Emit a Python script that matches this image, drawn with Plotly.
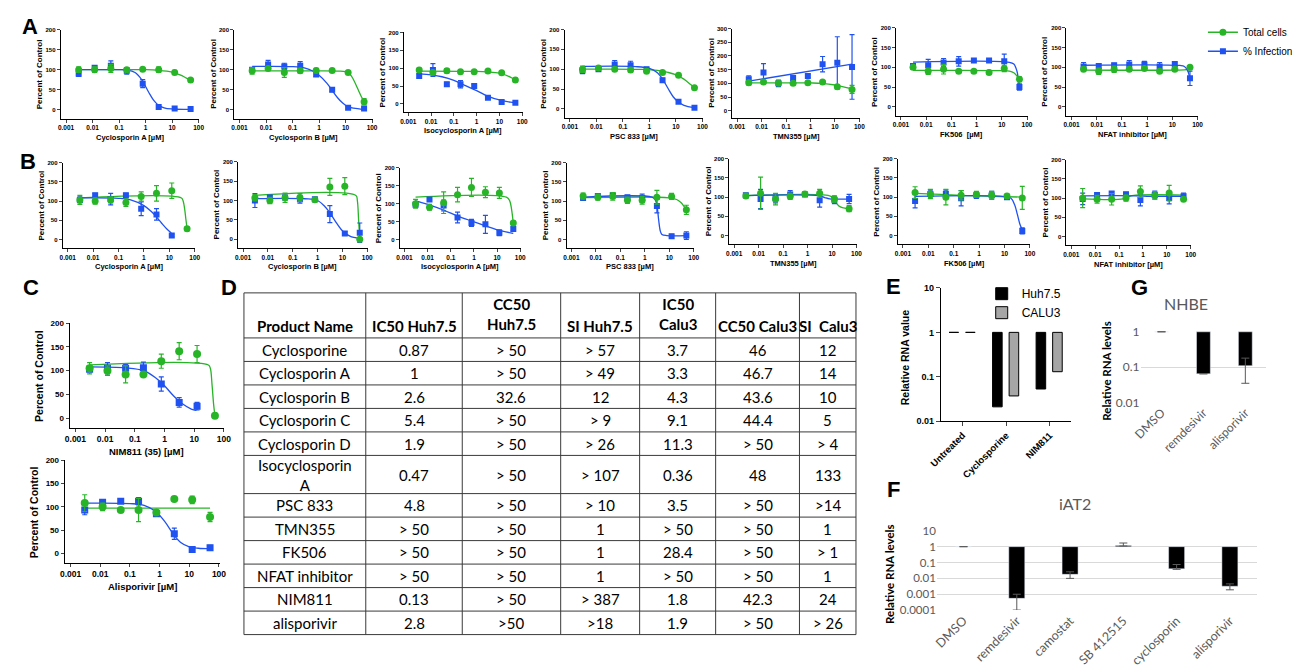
import plotly.graph_objects as go

W, H = 1298, 669
GREEN = '#27b527'
BLUE = '#1f52f0'
ARIAL = 'Liberation Sans, Arial, sans-serif'
NARROW = 'Liberation Sans Narrow, Liberation Sans, Arial, sans-serif'
CAL = 'Lato, Open Sans, sans-serif'
GRAY_TXT = '#595959'

# ---------------- data ----------------
DOSES = [0.003, 0.012, 0.049, 0.195, 0.78, 3.125, 12.5, 50]
X_TICKS = [0.001, 0.01, 0.1, 1, 10, 100]
X_TICKTEXT = ['0.001', '0.01', '0.1', '1', '10', '100']
Y_TITLE = 'Percent of Control'

A_LABELS = ['Cyclosporin A [µM]', 'Cyclosporin B [µM]', 'Isocyclosporin A [µM]', 'PSC 833 [µM]',
            'TMN355 [µM]', 'FK506  [µM]', 'NFAT inhibitor [µM]']
A_TOTAL = [
    [100, 100, 103, 100, 101, 100, 93, 74],
    [97, 103, 93, 97, 98, 98, 93, 20],
    [95, 88, 93, 90, 90, 92, 87, 67],
    [100, 103, 100, 98, 95, 92, 85, 53],
    [102, 105, 100, 100, 102, 105, 88, 78],
    [100, 90, 95, 90, 90, 87, 97, 70],
    [95, 90, 95, 95, 97, 90, 95, 100],
]
A_TOTAL_ERR = [
    [7, 7, 10, 5, 3, 7, 5, 3],
    [8, 3, 12, 5, 5, 3, 3, 8],
    [5, 5, 6, 3, 3, 4, 3, 5],
    [8, 5, 5, 5, 5, 3, 3, 3],
    [8, 3, 5, 5, 3, 3, 3, 15],
    [5, 8, 12, 3, 3, 5, 8, 6],
    [5, 8, 8, 3, 3, 3, 3, 3],
]
A_INFECT = [
    [90, 105, 110, 97, 65, 7, 3, 2],
    [100, 113, 108, 110, 88, 50, 5, 3],
    [78, 95, 55, 55, 50, 17, 5, 3],
    [97, 100, 112, 110, 100, 72, 18, 3],
    [115, 140, 100, 120, 127, 170, 175, 160],
    [103, 105, 112, 115, 117, 117, 115, 50],
    [102, 103, 105, 107, 107, 102, 108, 72],
]
A_INFECT_ERR = [
    [7, 5, 12, 8, 10, 2, 2, 2],
    [5, 10, 8, 10, 5, 5, 3, 3],
    [5, 18, 5, 10, 5, 3, 2, 2],
    [8, 5, 10, 10, 5, 5, 3, 3],
    [12, 32, 12, 8, 5, 28, 95, 118],
    [5, 15, 10, 12, 3, 3, 18, 8],
    [10, 5, 5, 10, 8, 10, 3, 18],
]
A_TOTAL_FIT = [
    [(0.003, 100), (0.3, 100), (1, 100), (3, 98.5), (10, 94), (20, 87), (35, 79), (50, 74)],
    [(0.003, 97), (1, 97), (5, 96.5), (10, 95), (15, 88), (20, 75), (30, 50), (40, 32), (50, 22)],
    [(0.003, 92), (1, 91), (3, 89.5), (10, 86), (20, 80), (30, 75), (50, 67)],
    [(0.003, 100), (0.5, 99.5), (2, 97), (5, 92), (10, 86), (20, 75), (35, 62), (50, 53)],
    [(0.003, 102), (1, 101.5), (3, 100), (10, 94), (20, 88), (50, 80)],
    [(0.003, 92), (10, 91.5), (20, 90), (30, 86), (40, 78), (50, 70)],
    [(0.003, 93), (30, 93.5), (50, 95)],
]
A_INFECT_FIT = [
    [(0.003, 100), (0.1, 100), (0.2, 99), (0.4, 93), (0.7, 76), (1, 58), (1.5, 37), (2, 24), (3, 12), (5, 5), (10, 2), (50, 1)],
    [(0.003, 108), (0.1, 107.5), (0.3, 104), (0.6, 96), (1, 86), (2, 66), (3, 50), (5, 30), (8, 16), (12, 8), (20, 4), (50, 1)],
    [(0.003, 84), (0.01, 81), (0.03, 76), (0.1, 66), (0.3, 52), (1, 37), (3, 22), (10, 11), (30, 5), (50, 4)],
    [(0.003, 107), (0.3, 106.5), (1, 102), (2, 91), (3, 77), (5, 52), (8, 30), (12, 18), (20, 9), (50, 3)],
    [(0.003, 108), (50, 170)],
    [(0.003, 113), (20, 112.5), (30, 108), (40, 90), (45, 72), (50, 52)],
    [(0.003, 105), (20, 104.5), (30, 102), (40, 92), (45, 83), (50, 72)],
]

B_LABELS = ['Cyclosporin A [µM]', 'Cyclosporin B [µM]', 'Isocyclosporin A [µM]', 'PSC 833 [µM]',
            'TMN355 [µM]', 'FK506 [µM]', 'NFAT inhibitor [µM]']
B_TOTAL = [
    [103, 100, 103, 96, 112, 120, 127, 28],
    [107, 100, 107, 108, 102, 135, 137, 0],
    [100, 90, 103, 125, 145, 132, 130, 47],
    [113, 110, 112, 102, 102, 110, 112, 77],
    [103, 110, 95, 102, 108, 110, 95, 70],
    [112, 108, 100, 105, 107, 105, 103, 98],
    [100, 97, 97, 100, 117, 107, 113, 97],
]
B_TOTAL_ERR = [
    [12, 8, 8, 10, 12, 20, 20, 5],
    [8, 8, 12, 10, 5, 22, 22, 3],
    [12, 8, 30, 20, 25, 15, 15, 5],
    [8, 8, 10, 8, 10, 18, 8, 12],
    [5, 42, 15, 8, 5, 10, 8, 8],
    [15, 12, 20, 12, 8, 10, 5, 30],
    [25, 10, 15, 8, 15, 10, 20, 5],
]
B_INFECT = [
    [103, 115, 105, 115, 80, 65, 10, None],
    [100, 108, 108, 103, 103, 65, 15, 17],
    [97, 112, 95, 62, 47, 43, 20, 30],
    [108, 113, 115, 110, 108, 87, 8, 10],
    [105, 95, 97, 107, 107, 92, 93, 95],
    [90, 108, 108, 97, 105, 105, 100, 12],
    [98, 108, 112, 110, 95, 108, 100, 105],
]
B_INFECT_ERR = [
    [8, 5, 15, 5, 18, 15, 3, 0],
    [18, 5, 5, 10, 5, 22, 5, 25],
    [5, 3, 15, 15, 10, 25, 8, 5],
    [5, 3, 5, 5, 10, 18, 5, 10],
    [5, 25, 12, 10, 3, 18, 10, 12],
    [18, 10, 10, 20, 8, 10, 5, 8],
    [15, 3, 5, 5, 15, 10, 15, 8],
]
B_TOTAL_FIT = [
    [(0.003, 108), (30, 108), (35, 100), (40, 80), (45, 52), (50, 28)],
    [(0.003, 113), (35, 113), (40, 100), (45, 50), (50, 0)],
    [(0.003, 118), (25, 118), (35, 108), (42, 85), (50, 45)],
    [(0.003, 109), (10, 108.5), (20, 104), (30, 96), (40, 86), (50, 78)],
    [(0.003, 104), (8, 103.5), (12, 97), (15, 85), (20, 76), (30, 72), (50, 70)],
    [(0.003, 110), (0.03, 107), (0.3, 104), (3, 102), (50, 100)],
    [(0.003, 98), (0.15, 98), (0.25, 104), (0.5, 107.5), (50, 108)],
]
B_INFECT_FIT = [
    [(0.003, 108), (0.1, 107), (0.3, 103), (1, 88), (2, 72), (3, 60), (5, 42), (8, 27), (12, 17)],
    [(0.003, 105), (0.3, 104.5), (1, 100), (2, 84), (3, 70), (5, 48), (10, 22), (20, 8), (50, 2)],
    [(0.003, 108), (0.01, 98), (0.05, 82), (0.2, 66), (1, 50), (3, 39), (10, 28), (50, 18)],
    [(0.003, 110), (2, 110), (2.7, 103), (3.2, 85), (3.7, 50), (4.3, 22), (5, 13), (8, 10), (50, 10)],
    [(0.003, 104), (3, 103.5), (5, 99), (8, 95.5), (15, 95), (50, 95)],
    [(0.003, 102), (10, 101.5), (18, 97), (25, 80), (32, 55), (40, 30), (50, 15)],
    [(0.003, 106), (0.5, 106), (2, 104.5), (50, 104.5)],
]

C_LABELS = ['NIM811 (35) [µM]', 'Alisporivir [µM]']
C_TOTAL = [
    [105, 100, 92, 92, 120, 141, 135, 5],
    [108, 100, 93, 93, 88, 117, 115, 78],
]
C_TOTAL_ERR = [
    [12, 10, 18, 3, 15, 18, 18, 2],
    [18, 8, 3, 25, 3, 3, 8, 10],
]
C_INFECT = [
    [103, 105, 105, 106, 72, 33, 25, None],
    [93, 110, 112, 112, 85, 42, 8, 12],
]
C_INFECT_ERR = [
    [5, 12, 8, 12, 15, 10, 8, 0],
    [10, 5, 3, 8, 5, 12, 3, 5],
]
C_TOTAL_FIT = [
    [(0.003, 112), (30, 112), (35, 105), (40, 70), (45, 30), (50, 5)],
    [(0.003, 97), (50, 97)],
]
C_INFECT_FIT = [
    [(0.003, 108), (0.05, 106), (0.2, 100), (0.5, 85), (1, 68), (2, 47), (4, 30), (8, 19), (12, 16)],
    [(0.003, 108), (0.1, 107), (0.3, 103), (0.8, 88), (1.5, 68), (3, 40), (5, 24), (10, 14), (20, 11), (50, 10)],
]

TABLE_HEADER = ['Product Name', 'IC50 Huh7.5', 'CC50<br>Huh7.5', 'SI Huh7.5', 'IC50<br>Calu3', 'CC50 Calu3', 'SI  Calu3']
PRODUCTS = ['Cyclosporine', 'Cyclosporin A', 'Cyclosporin B', 'Cyclosporin C', 'Cyclosporin D',
            'Isocyclosporin<br>A', 'PSC 833', 'TMN355', 'FK506', 'NFAT inhibitor', 'NIM811', 'alisporivir']
IC50_HUH = ['0.87', '1', '2.6', '5.4', '1.9', '0.47', '4.8', '> 50', '> 50', '> 50', '0.13', '2.8']
CC50_HUH = ['> 50', '> 50', '32.6', '> 50', '> 50', '> 50', '> 50', '> 50', '> 50', '> 50', '> 50', '>50']
SI_HUH = ['> 57', '> 49', '12', '> 9', '> 26', '> 107', '> 10', '1', '1', '1', '> 387', '>18']
IC50_CALU = ['3.7', '3.3', '4.3', '9.1', '11.3', '0.36', '3.5', '> 50', '28.4', '> 50', '1.8', '1.9']
CC50_CALU = ['46', '46.7', '43.6', '44.4', '> 50', '48', '> 50', '> 50', '> 50', '> 50', '42.3', '> 50']
SI_CALU = ['12', '14', '10', '5', '> 4', '133', '>14', '1', '> 1', '1', '24', '> 26']

E_CATS = ['Untreated', 'Cyclosporine', 'NIM811']
E_HUH = [1, 0.021, 0.053]
E_CALU = [1, 0.037, 0.13]

G_CATS = ['DMSO', 'remdesivir', 'alisporivir']
G_VALS = [1, 0.065, 0.11]
G_ERR_PLUS = [0, 0, 0.07]
G_ERR_MINUS = [0, 0, 0.075]

F_CATS = ['DMSO', 'remdesivir', 'camostat', 'SB 412515', 'cyclosporin', 'alisporivir']
F_VALS = [1, 0.00055, 0.018, 1.2, 0.04, 0.0032]
F_ERR_PLUS = [0, 0.00045, 0.008, 0.5, 0.035, 0.0013]
F_ERR_MINUS = [0, 0.00045, 0.008, 0.1, 0.003, 0.0013]

# ---------------- layout positions (px): x_left(axis), x_right, y_top(max tick), y_bottom(axis) ----------------
POS_A = [(50, 192, 23, 114), (228, 370, 23, 114), (402, 524, 26, 107), (567, 709, 23, 113),
         (739, 870, 22, 113), (907, 1042, 21, 111), (1082, 1217, 21, 111)]
POS_B = [(52, 188, 159, 246), (232, 365, 158, 246), (398, 522, 164, 246), (569, 700, 159, 246),
         (736, 867, 155, 242), (909, 1045, 155, 242), (1082, 1210, 156, 243)]
POS_C = [(59, 218, 323, 430), (54, 213, 463, 568)]
TABLE_COLS = [238, 363, 462, 563, 644, 722, 808, 866]
TABLE_ROWS = [292, 338, 362, 386, 410, 434, 458, 497, 521, 545, 569, 593, 617, 641]

fig = go.Figure()
LAY = {}
ANN = []
SHAPES = []


def ax_names(n):
    return ('x' if n == 1 else f'x{n}', 'y' if n == 1 else f'y{n}',
            'xaxis' if n == 1 else f'xaxis{n}', 'yaxis' if n == 1 else f'yaxis{n}')


def px(x):
    return x / W


def py(y):
    return 1 - y / H


def text_at(x, y, text, size, family=ARIAL, color='black', weight='normal', angle=0, xanchor='center'):
    ANN.append(dict(text=text, x=px(x), y=py(y), xref='paper', yref='paper', showarrow=False,
                    xanchor=xanchor, yanchor='middle', textangle=angle,
                    font=dict(family=family, size=size, color=color, weight=weight)))


def dr_panel(n, pos, label, tot, tot_err, inf, inf_err, tot_fit, inf_fit, ymax=200, ymin=-22, big=False):
    xa, ya, xk, yk = ax_names(n)
    x0, x1, yt, yb = pos
    msize = 8 if big else 7
    for fit, col in ((tot_fit, GREEN), (inf_fit, BLUE)):
        fig.add_trace(go.Scatter(x=[p[0] for p in fit], y=[p[1] for p in fit], mode='lines',
                                 line=dict(color=col, width=1.3, shape='spline', smoothing=1.0),
                                 xaxis=xa, yaxis=ya, showlegend=False, hoverinfo='skip'))
    fig.add_trace(go.Scatter(x=DOSES, y=inf, mode='markers',
                             marker=dict(symbol='square', size=msize - 1, color=BLUE),
                             error_y=dict(type='data', array=inf_err, color=BLUE, thickness=1.2, width=2.5),
                             xaxis=xa, yaxis=ya, showlegend=False))
    fig.add_trace(go.Scatter(x=DOSES, y=tot, mode='markers',
                             marker=dict(symbol='circle', size=msize, color=GREEN),
                             error_y=dict(type='data', array=tot_err, color=GREEN, thickness=1.2, width=2.5),
                             xaxis=xa, yaxis=ya, showlegend=False))
    tick_size = 8 if big else 6
    LAY[xk] = dict(type='log', domain=[px(x0), px(x1)], range=[-3.2, 2.02], anchor=ya,
                   tickvals=X_TICKS, ticktext=X_TICKTEXT, showline=True, linecolor='black', linewidth=1,
                   ticks='outside', ticklen=3, tickwidth=1, showgrid=False, zeroline=False,
                   tickfont=dict(family=ARIAL, size=tick_size + 0.5, color='black', weight='bold'))
    LAY[yk] = dict(domain=[py(yb), py(yt)], range=[ymin, ymax], anchor=xa,
                   tickvals=list(range(0, ymax + 1, 50)), showline=True, linecolor='black', linewidth=1,
                   ticks='outside', ticklen=3, tickwidth=1, showgrid=False, zeroline=False,
                   tickfont=dict(family=ARIAL, size=tick_size, color='black', weight='bold'))
    if big:
        text_at(x0 - 32, (yt + yb) / 2, Y_TITLE, 10.5, weight='bold', angle=-90)
        text_at((x0 + x1) / 2, yb + 24, label, 9.5, weight='bold')
    else:
        text_at(x0 - 22, (yt + yb) / 2, Y_TITLE, 8, weight='bold', angle=-90)
        text_at((x0 + x1) / 2, yb + 19.5, label, 7.5, weight='bold')


n = 1
for i in range(7):
    if i == 4:
        dr_panel(n, POS_A[i], A_LABELS[i], A_TOTAL[i], A_TOTAL_ERR[i], A_INFECT[i], A_INFECT_ERR[i],
                 A_TOTAL_FIT[i], A_INFECT_FIT[i], ymax=300, ymin=-25)
    else:
        dr_panel(n, POS_A[i], A_LABELS[i], A_TOTAL[i], A_TOTAL_ERR[i], A_INFECT[i], A_INFECT_ERR[i],
                 A_TOTAL_FIT[i], A_INFECT_FIT[i])
    n += 1
for i in range(7):
    dr_panel(n, POS_B[i], B_LABELS[i], B_TOTAL[i], B_TOTAL_ERR[i], B_INFECT[i], B_INFECT_ERR[i],
             B_TOTAL_FIT[i], B_INFECT_FIT[i])
    n += 1
for i in range(2):
    dr_panel(n, POS_C[i], C_LABELS[i], C_TOTAL[i], C_TOTAL_ERR[i], C_INFECT[i], C_INFECT_ERR[i],
             C_TOTAL_FIT[i], C_INFECT_FIT[i], ymin=-21, big=True)
    n += 1

# legend entries (no marks drawn)
fig.add_trace(go.Scatter(x=[None], y=[None], mode='lines+markers', name='Total cells',
                         marker=dict(symbol='circle', size=7, color=GREEN), line=dict(color=GREEN, width=1.3),
                         xaxis='x', yaxis='y', legend='legend'))
fig.add_trace(go.Scatter(x=[None], y=[None], mode='lines+markers', name='% Infection',
                         marker=dict(symbol='square', size=6, color=BLUE), line=dict(color=BLUE, width=1.3),
                         xaxis='x', yaxis='y', legend='legend'))

# ---------------- E ----------------
nE = 17
xa, ya, xk, yk = ax_names(nE)
fig.add_trace(go.Bar(x=E_CATS, y=[1 - v for v in E_HUH], base=E_HUH, name='Huh7.5',
                     marker=dict(color='black', line=dict(color='black', width=1)),
                     width=0.22, offset=-0.31, xaxis=xa, yaxis=ya, legend='legend2'))
fig.add_trace(go.Bar(x=E_CATS, y=[1 - v for v in E_CALU], base=E_CALU, name='CALU3',
                     marker=dict(color='#a6a6a6', line=dict(color='black', width=1)),
                     width=0.22, offset=0.07, xaxis=xa, yaxis=ya, legend='legend2'))
LAY[xk] = dict(type='category', domain=[px(953), px(1087)], range=[-0.5, 2.5], anchor=ya,
               showline=True, linecolor='black', linewidth=1, ticks='outside', ticklen=4,
               tickangle=-45, tickfont=dict(family=ARIAL, size=9.5, color='black', weight='bold'), showgrid=False)
LAY[yk] = dict(type='log', domain=[py(423), py(287)], range=[-2, 1], anchor=xa,
               tickvals=[0.01, 0.1, 1, 10], ticktext=['0.01', '0.1', '1', '10'], showline=True, linecolor='black',
               linewidth=1, ticks='outside', ticklen=4, showgrid=False, zeroline=False,
               tickfont=dict(family=ARIAL, size=9, color='black', weight='bold'))
text_at(916, 358, 'Relative RNA value', 10.5, weight='bold', angle=-90)

# ---------------- G ----------------
nG = 18
xa, ya, xk, yk = ax_names(nG)
fig.add_trace(go.Bar(x=G_CATS, y=[1 - v for v in G_VALS], base=G_VALS, marker=dict(color='black'), width=0.33,
                     xaxis=xa, yaxis=ya, showlegend=False))
fig.add_trace(go.Scatter(x=G_CATS, y=G_VALS, mode='markers', marker=dict(size=0.1, color='black'),
                         error_y=dict(type='data', array=G_ERR_PLUS, arrayminus=G_ERR_MINUS, color=GRAY_TXT,
                                      thickness=1, width=4),
                         xaxis=xa, yaxis=ya, showlegend=False, hoverinfo='skip'))
LAY[xk] = dict(type='category', domain=[px(1158), px(1287)], range=[-0.5, 2.5], anchor=ya,
               showline=False, ticks='', tickangle=-45, tickfont=dict(family=CAL, size=12, color=GRAY_TXT),
               showgrid=False)
LAY[yk] = dict(type='log', domain=[py(404), py(331)], range=[-2, 0.02], anchor=xa,
               tickvals=[0.01, 0.1, 1], ticktext=['0.01', '0.1', '1'], showline=False, ticks='',
               showgrid=True, gridcolor='#d9d9d9', zeroline=False,
               tickfont=dict(family=CAL, size=12, color=GRAY_TXT))
text_at(1123, 372, 'Relative RNA levels', 11.5, family=CAL, weight='bold', angle=-90)
text_at(1205, 303, 'NHBE', 16, family=CAL, color=GRAY_TXT)

# ---------------- F ----------------
nF = 19
xa, ya, xk, yk = ax_names(nF)
fig.add_trace(go.Bar(x=F_CATS, y=[1 - v for v in F_VALS], base=F_VALS, marker=dict(color='black'), width=0.3,
                     xaxis=xa, yaxis=ya, showlegend=False))
fig.add_trace(go.Scatter(x=F_CATS, y=F_VALS, mode='markers', marker=dict(size=0.1, color='black'),
                         error_y=dict(type='data', array=F_ERR_PLUS, arrayminus=F_ERR_MINUS, color=GRAY_TXT,
                                      thickness=1, width=4),
                         xaxis=xa, yaxis=ya, showlegend=False, hoverinfo='skip'))
LAY[xk] = dict(type='category', domain=[px(949), px(1277)], range=[-0.5, 5.5], anchor=ya,
               showline=False, ticks='', tickangle=-45, tickfont=dict(family=CAL, size=12.5, color=GRAY_TXT),
               showgrid=False)
LAY[yk] = dict(type='log', domain=[py(616), py(535)], range=[-4, 1], anchor=xa,
               tickvals=[0.0001, 0.001, 0.01, 0.1, 1, 10], ticktext=['0.0001', '0.001', '0.01', '0.1', '1', '10'],
               showline=False, ticks='', showgrid=True, gridcolor='#d9d9d9', zeroline=False,
               tickfont=dict(family=CAL, size=11.5, color=GRAY_TXT))
text_at(901, 580, 'Relative RNA levels', 11.5, family=CAL, weight='bold', angle=-90)
text_at(1091, 507, 'iAT2', 16, family=CAL, color=GRAY_TXT)

# ---------------- D table (grid + cell text) ----------------
cols = [PRODUCTS, IC50_HUH, CC50_HUH, SI_HUH, IC50_CALU, CC50_CALU, SI_CALU]
for x in TABLE_COLS:
    SHAPES.append(dict(type='line', xref='paper', yref='paper', x0=px(x), x1=px(x),
                       y0=py(TABLE_ROWS[0]), y1=py(TABLE_ROWS[-1]), line=dict(color='#3a3a3a', width=1)))
for y in TABLE_ROWS:
    SHAPES.append(dict(type='line', xref='paper', yref='paper', x0=px(TABLE_COLS[0]), x1=px(TABLE_COLS[-1]),
                       y0=py(y), y1=py(y), line=dict(color='#3a3a3a', width=1)))
for c, head in enumerate(TABLE_HEADER):
    xc = (TABLE_COLS[c] + TABLE_COLS[c + 1]) / 2
    yc = 314 if '<br>' in head else 326
    text_at(xc, yc, head, 15, family=CAL, weight='bold')
    for r, val in enumerate(cols[c]):
        yc = (TABLE_ROWS[r + 1] + TABLE_ROWS[r + 2]) / 2
        text_at(xc, yc, val, 15, family=CAL)

# ---------------- reference lines at 1 ----------------
SHAPES += [
    dict(type='line', xref='x17 domain', x0=0, x1=1, yref='y17', y0=0, y1=0, line=dict(color='black', width=1)),
    dict(type='line', xref='x18 domain', x0=0, x1=1, yref='y18', y0=0, y1=0, line=dict(color='#bfbfbf', width=1.5)),
    dict(type='line', xref='x19 domain', x0=0, x1=1, yref='y19', y0=0, y1=0, line=dict(color='#bfbfbf', width=1.5)),
]

# ---------------- panel letters ----------------
for letter, x, y in [('A', 18, 20), ('B', 16, 158), ('C', 19, 286), ('D', 223, 286), ('E', 905, 285),
                     ('G', 1157, 287), ('F', 904, 493)]:
    text_at(x, y, f'<b>{letter}</b>', 22)

LAY.update(dict(
    width=W, height=H, margin=dict(l=0, r=0, t=0, b=0), paper_bgcolor='white', plot_bgcolor='white',
    font=dict(family=ARIAL, color='black'), barmode='overlay', shapes=SHAPES, annotations=ANN,
    legend=dict(x=px(1222), y=py(11), xanchor='left', yanchor='top', bgcolor='rgba(0,0,0,0)',
                font=dict(family=NARROW, size=10, color='black'), tracegroupgap=0, itemwidth=30),
    legend2=dict(x=px(995), y=py(278), xanchor='left', yanchor='top', bgcolor='rgba(0,0,0,0)',
                 font=dict(family=ARIAL, size=12, color='black'), tracegroupgap=0, itemwidth=30),
))
fig.update_layout(**LAY)
fig.write_html('out.html')
